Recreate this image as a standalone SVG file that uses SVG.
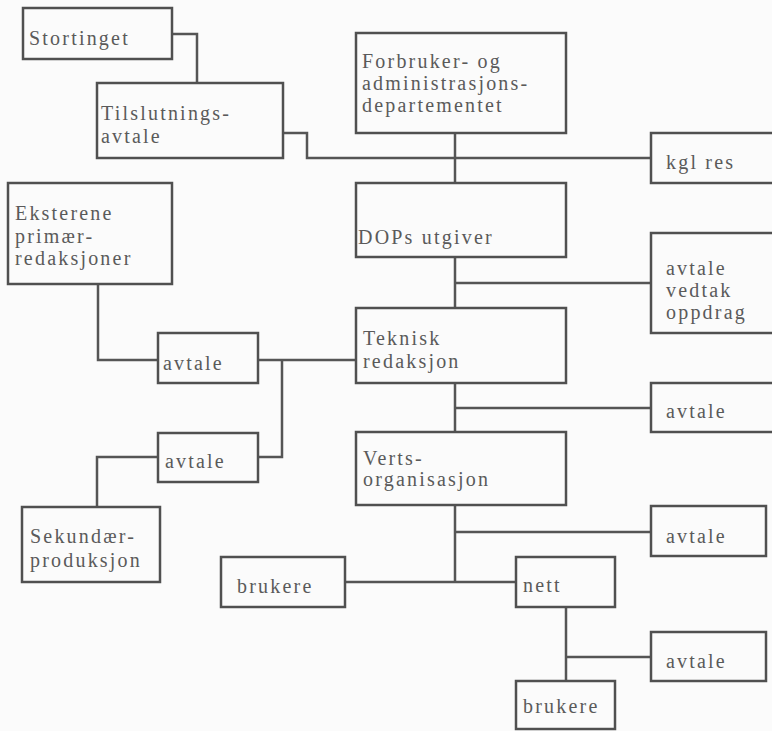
<svg xmlns="http://www.w3.org/2000/svg" width="772" height="731" viewBox="0 0 772 731">
<style>
.box{fill:none;stroke:#505050;stroke-width:2.5}
.ln{fill:none;stroke:#555;stroke-width:2.5}
text{font-family:"Liberation Serif","Times New Roman",serif;font-size:20px;letter-spacing:2.2px;fill:#5a5a5a}
</style>
<rect x="0" y="0" width="772" height="731" fill="#fbfbfb"/>
<g id="connectors">
<path class="ln" d="M172,34 H197 V83"/>
<path class="ln" d="M283,133 H307 V158 H651"/>
<path class="ln" d="M455,133 V183"/>
<path class="ln" d="M455,257 V308 M455,283 H651"/>
<path class="ln" d="M98,284 V360 H158"/>
<path class="ln" d="M258,360 H356 M282,360 V457 H258"/>
<path class="ln" d="M158,457 H97 V507"/>
<path class="ln" d="M455,383 V432 M455,408 H651"/>
<path class="ln" d="M455,505 V582 M455,532 H651 M345,582 H516"/>
<path class="ln" d="M566,607 V681 M566,657 H651"/>
</g>
<g id="stortinget"><rect class="box" x="23" y="8" width="149" height="51"/><text x="29" y="45">Stortinget</text></g>
<g id="tilslutning"><rect class="box" x="97" y="83" width="186" height="75"/><text x="101" y="120">Tilslutnings-</text><text x="101" y="143">avtale</text></g>
<g id="departement"><rect class="box" x="356" y="33" width="210" height="100"/><text x="362" y="68">Forbruker- og</text><text x="362" y="90">administrasjons-</text><text x="362" y="112">departementet</text></g>
<g id="kglres"><rect class="box" x="651" y="133" width="130" height="50"/><text x="666" y="169">kgl res</text></g>
<g id="dops"><rect class="box" x="356" y="183" width="210" height="74"/><text x="358" y="244">DOPs utgiver</text></g>
<g id="avtale-vedtak"><rect class="box" x="651" y="233" width="130" height="100"/><text x="666" y="275">avtale</text><text x="666" y="297">vedtak</text><text x="666" y="319">oppdrag</text></g>
<g id="eksterene"><rect class="box" x="8" y="183" width="164" height="101"/><text x="15" y="220">Eksterene</text><text x="15" y="243">primær-</text><text x="15" y="265">redaksjoner</text></g>
<g id="teknisk"><rect class="box" x="356" y="308" width="210" height="75"/><text x="363" y="345">Teknisk</text><text x="363" y="368">redaksjon</text></g>
<g id="avtale-tek"><rect class="box" x="651" y="383" width="130" height="49"/><text x="666" y="418">avtale</text></g>
<g id="avtale-eks"><rect class="box" x="158" y="333" width="100" height="50"/><text x="163" y="370">avtale</text></g>
<g id="avtale-sek"><rect class="box" x="158" y="433" width="100" height="49"/><text x="165" y="468">avtale</text></g>
<g id="sekundaer"><rect class="box" x="22" y="507" width="138" height="75"/><text x="30" y="543">Sekundær-</text><text x="30" y="567">produksjon</text></g>
<g id="verts"><rect class="box" x="356" y="432" width="210" height="73"/><text x="363" y="465">Verts-</text><text x="363" y="486">organisasjon</text></g>
<g id="avtale-verts"><rect class="box" x="651" y="506" width="115" height="50"/><text x="666" y="543">avtale</text></g>
<g id="brukere1"><rect class="box" x="221" y="557" width="124" height="50"/><text x="237" y="593">brukere</text></g>
<g id="nett"><rect class="box" x="516" y="557" width="99" height="50"/><text x="523" y="592">nett</text></g>
<g id="avtale-nett"><rect class="box" x="651" y="632" width="115" height="49"/><text x="666" y="668">avtale</text></g>
<g id="brukere2"><rect class="box" x="516" y="681" width="99" height="48"/><text x="523" y="713">brukere</text></g>
</svg>
